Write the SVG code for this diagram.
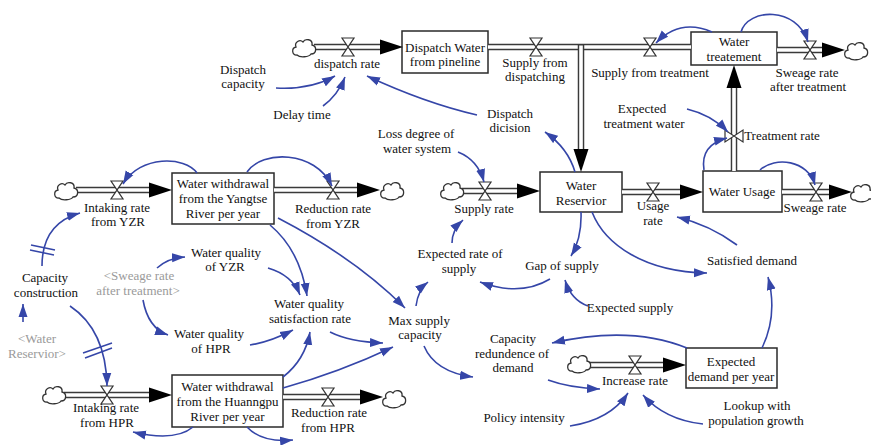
<svg xmlns="http://www.w3.org/2000/svg" width="871" height="445" viewBox="0 0 871 445">
<style>
text { font-family: "Liberation Serif", "Times New Roman", serif; font-size: 13px; fill: #111; text-anchor: middle; }
text.shadow { fill: #9a9a9a; }
.box { fill: #fff; stroke: #2a2a2a; stroke-width: 1.5; }
.pipe-o { stroke: #3a3a3a; stroke-width: 6.5; fill: none; }
.pipe-i { stroke: #fff; stroke-width: 3.6; fill: none; }
.valve { fill: #fff; stroke: #333; stroke-width: 1.2; }
.cloud { fill: #fff; stroke: #333; stroke-width: 1.3; }
.head { fill: #000; }
.link { fill: none; stroke: #3546a8; stroke-width: 1.6; marker-end: url(#ah); }
.delay { stroke: #3546a8; stroke-width: 1.5; }
</style>
<defs>
  <marker id="ah" markerUnits="userSpaceOnUse" markerWidth="14" markerHeight="10" refX="13" refY="5" orient="auto">
    <path d="M0,0.5 L13,5 L0,9.5 Z" fill="#3546a8"/>
  </marker>
  <path id="valve" d="M-6,-9 H6 L-6,9 H6 Z"/>
  <path id="cloud" d="M-7,7 C-12,8 -13,0 -8,-1 C-10,-6 -4,-9 -1,-6 C1,-10 9,-9 8,-3 C13,-2 13,6 7,6 C5,9 -4,10 -7,7 Z"/>
  <path id="head" d="M-23,-7.5 L0,0 L-23,7.5 Z"/>
</defs>
<rect width="871" height="445" fill="#fff"/>

<!-- ===== stocks ===== -->
<g id="stock-dispatch-water">
  <rect class="box" x="402" y="31" width="86" height="42"/>
  <text x="445" y="52">Dispatch Water</text>
  <text x="445" y="66">from pineline</text>
</g>
<g id="stock-water-treatement">
  <rect class="box" x="691" y="32" width="86" height="33"/>
  <text x="734" y="46">Water</text>
  <text x="734" y="61">treatement</text>
</g>
<g id="stock-yzr">
  <rect class="box" x="172" y="173" width="102" height="51"/>
  <text x="223" y="188">Water withdrawal</text>
  <text x="223" y="203">from the Yangtse</text>
  <text x="223" y="218">River per year</text>
</g>
<g id="stock-water-reservior">
  <rect class="box" x="540" y="172" width="82" height="40"/>
  <text x="581" y="190">Water</text>
  <text x="581" y="205">Reservior</text>
</g>
<g id="stock-water-usage">
  <rect class="box" x="703" y="171" width="79" height="41"/>
  <text x="742" y="196">Water Usage</text>
</g>
<g id="stock-hpr">
  <rect class="box" x="172" y="375" width="111" height="52"/>
  <text x="227.5" y="391">Water withdrawal</text>
  <text x="227.5" y="406">from the Huanngpu</text>
  <text x="227.5" y="421">River per year</text>
</g>
<g id="stock-expected-demand">
  <rect class="box" x="686" y="348" width="91" height="40"/>
  <text x="731" y="366">Expected</text>
  <text x="731" y="381">demand per year</text>
</g>

<!-- ===== flows ===== -->
<g id="flow-dispatch-rate">
  <line class="pipe-o" x1="314" y1="47" x2="384" y2="47"/>
  <line class="pipe-i" x1="314" y1="47" x2="384" y2="47"/>
  <use href="#cloud" class="cloud" transform="translate(304,48)"/>
  <use href="#valve" class="valve" transform="translate(348,47)"/>
  <use href="#head" class="head" transform="translate(403,47)"/>
  <text x="347" y="68">dispatch rate</text>
</g>
<g id="flow-supply-from-dispatching">
  <line class="pipe-o" x1="488" y1="47" x2="691" y2="47"/>
  <line class="pipe-i" x1="488" y1="47" x2="691" y2="47"/>
  <use href="#valve" class="valve" transform="translate(536,47)"/>
  <text x="535" y="67">Supply from</text>
  <text x="535" y="81">dispatching</text>
</g>
<g id="flow-supply-from-treatment">
  <use href="#valve" class="valve" transform="translate(650,47)"/>
  <text x="650" y="77">Supply from treatment</text>
</g>
<g id="flow-merge">
  <line class="pipe-o" x1="581" y1="44" x2="581" y2="152"/>
  <line class="pipe-i" x1="581" y1="45.5" x2="581" y2="152"/>
  <use href="#head" class="head" transform="translate(581,172) rotate(90)"/>
</g>
<g id="flow-sweage-after-treatment">
  <line class="pipe-o" x1="777" y1="50" x2="826" y2="50"/>
  <line class="pipe-i" x1="777" y1="50" x2="826" y2="50"/>
  <use href="#valve" class="valve" transform="translate(810,50)"/>
  <use href="#head" class="head" transform="translate(845,50)"/>
  <use href="#cloud" class="cloud" transform="translate(856,51)"/>
  <text x="807" y="77">Sweage rate</text>
  <text x="808" y="91">after treatment</text>
</g>
<g id="flow-treatment-rate">
  <line class="pipe-o" x1="734" y1="171" x2="734" y2="84"/>
  <line class="pipe-i" x1="734" y1="171" x2="734" y2="84"/>
  <use href="#valve" class="valve" transform="translate(734,136) rotate(90)"/>
  <use href="#head" class="head" transform="translate(734,65) rotate(-90)"/>
  <text x="782" y="140">Treatment rate</text>
</g>
<g id="flow-intaking-yzr">
  <line class="pipe-o" x1="76" y1="190" x2="153" y2="190"/>
  <line class="pipe-i" x1="76" y1="190" x2="153" y2="190"/>
  <use href="#cloud" class="cloud" transform="translate(66,191)"/>
  <use href="#valve" class="valve" transform="translate(117,190)"/>
  <use href="#head" class="head" transform="translate(172,190)"/>
  <text x="117" y="212">Intaking rate</text>
  <text x="118" y="226">from YZR</text>
</g>
<g id="flow-reduction-yzr">
  <line class="pipe-o" x1="274" y1="190" x2="361" y2="190"/>
  <line class="pipe-i" x1="274" y1="190" x2="361" y2="190"/>
  <use href="#valve" class="valve" transform="translate(333,190)"/>
  <use href="#head" class="head" transform="translate(380,190)"/>
  <use href="#cloud" class="cloud" transform="translate(392,191)"/>
  <text x="333" y="213">Reduction rate</text>
  <text x="333" y="228">from YZR</text>
</g>
<g id="flow-supply-rate">
  <line class="pipe-o" x1="462" y1="191" x2="521" y2="191"/>
  <line class="pipe-i" x1="462" y1="191" x2="521" y2="191"/>
  <use href="#cloud" class="cloud" transform="translate(452,191)"/>
  <use href="#valve" class="valve" transform="translate(485,191)"/>
  <use href="#head" class="head" transform="translate(540,191)"/>
  <text x="484" y="213">Supply rate</text>
</g>
<g id="flow-usage-rate">
  <line class="pipe-o" x1="622" y1="192" x2="684" y2="192"/>
  <line class="pipe-i" x1="622" y1="192" x2="684" y2="192"/>
  <use href="#valve" class="valve" transform="translate(653,192)"/>
  <use href="#head" class="head" transform="translate(703,192)"/>
  <text x="653" y="210">Usage</text>
  <text x="653" y="225">rate</text>
</g>
<g id="flow-sweage-rate">
  <line class="pipe-o" x1="782" y1="192" x2="833" y2="192"/>
  <line class="pipe-i" x1="782" y1="192" x2="833" y2="192"/>
  <use href="#valve" class="valve" transform="translate(816,192)"/>
  <use href="#head" class="head" transform="translate(852,192)"/>
  <use href="#cloud" class="cloud" transform="translate(862,193)"/>
  <text x="815" y="212">Sweage rate</text>
</g>
<g id="flow-intaking-hpr">
  <line class="pipe-o" x1="64" y1="395" x2="153" y2="395"/>
  <line class="pipe-i" x1="64" y1="395" x2="153" y2="395"/>
  <use href="#cloud" class="cloud" transform="translate(54,395)"/>
  <use href="#valve" class="valve" transform="translate(107,395)"/>
  <use href="#head" class="head" transform="translate(172,395)"/>
  <text x="106" y="412">Intaking rate</text>
  <text x="107" y="427">from HPR</text>
</g>
<g id="flow-reduction-hpr">
  <line class="pipe-o" x1="283" y1="397" x2="364" y2="397"/>
  <line class="pipe-i" x1="283" y1="397" x2="364" y2="397"/>
  <use href="#valve" class="valve" transform="translate(328,397)"/>
  <use href="#head" class="head" transform="translate(383,397)"/>
  <use href="#cloud" class="cloud" transform="translate(394,399)"/>
  <text x="329" y="417">Reduction rate</text>
  <text x="328" y="432">from HPR</text>
</g>
<g id="flow-increase-rate">
  <line class="pipe-o" x1="589" y1="365" x2="667" y2="365"/>
  <line class="pipe-i" x1="589" y1="365" x2="667" y2="365"/>
  <use href="#cloud" class="cloud" transform="translate(579,364)"/>
  <use href="#valve" class="valve" transform="translate(635,365)"/>
  <use href="#head" class="head" transform="translate(686,365)"/>
  <text x="635" y="385">Increase rate</text>
</g>

<!-- ===== auxiliaries ===== -->
<g id="aux-dispatch-capacity"><text x="243" y="74">Dispatch</text><text x="243" y="88">capacity</text></g>
<g id="aux-delay-time"><text x="302" y="119">Delay time</text></g>
<g id="aux-dispatch-dicision"><text x="510" y="118">Dispatch</text><text x="510" y="132">dicision</text></g>
<g id="aux-loss-degree"><text x="416" y="138">Loss degree of</text><text x="417" y="153">water system</text></g>
<g id="aux-expected-treatment"><text x="642" y="113">Expected</text><text x="644" y="128">treatment water</text></g>
<g id="aux-capacity-construction"><text x="45" y="282">Capacity</text><text x="46" y="297">construction</text></g>
<g id="aux-water-quality-yzr"><text x="226" y="257">Water quality</text><text x="225" y="271">of YZR</text></g>
<g id="shadow-sweage-rate"><text class="shadow" x="139" y="280">&lt;Sweage rate</text><text class="shadow" x="138" y="295">after treatment&gt;</text></g>
<g id="aux-expected-rate-supply"><text x="460" y="258">Expected rate of</text><text x="459" y="273">supply</text></g>
<g id="aux-gap-of-supply"><text x="562" y="270">Gap of supply</text></g>
<g id="aux-satisfied-demand"><text x="752" y="265">Satisfied demand</text></g>
<g id="aux-wq-satisfaction"><text x="309" y="308">Water quality</text><text x="310" y="323">satisfaction rate</text></g>
<g id="aux-max-supply"><text x="419" y="325">Max supply</text><text x="420" y="339">capacity</text></g>
<g id="aux-expected-supply"><text x="630" y="312">Expected supply</text></g>
<g id="aux-water-quality-hpr"><text x="209" y="338">Water quality</text><text x="211" y="353">of HPR</text></g>
<g id="shadow-water-reservior"><text class="shadow" x="37" y="343">&lt;Water</text><text class="shadow" x="37" y="358">Reservior&gt;</text></g>
<g id="aux-capacity-redundence"><text x="513" y="343">Capacity</text><text x="512" y="358">redundence of</text><text x="513" y="372">demand</text></g>
<g id="aux-policy-intensity"><text x="524" y="422">Policy intensity</text></g>
<g id="aux-lookup"><text x="757" y="410">Lookup with</text><text x="756" y="425">population growth</text></g>

<!-- ===== information links ===== -->
<g id="connectors">
  <path class="link" d="M276,88 Q310,90 335,76"/>
  <path class="link" d="M323,106 Q338,95 345,77"/>
  <path class="link" d="M477,115 Q425,103 367,76"/>
  <path class="link" d="M575,172 Q568,148 545,132"/>
  <path class="link" d="M712,32 Q680,18 656,43"/>
  <path class="link" d="M741,32 C748,8 797,6 808,42"/>
  <path class="link" d="M687,109 Q712,115 728,132"/>
  <path class="link" d="M704,170 Q700,145 727,138"/>
  <path class="link" d="M760,170 C775,156 808,160 815,185"/>
  <path class="link" d="M458,152 Q478,160 484,182"/>
  <path class="link" d="M197,173 C185,156 140,155 123,184"/>
  <path class="link" d="M247,172 C262,150 315,150 332,186"/>
  <path class="link" d="M42,266 C42,238 55,220 80,213"/>
  <line class="delay" x1="31" y1="245" x2="55" y2="250"/>
  <line class="delay" x1="30" y1="250" x2="54" y2="255"/>
  <path class="link" d="M157,268 Q168,258 185,257"/>
  <path class="link" d="M270,225 Q300,250 307,296"/>
  <path class="link" d="M268,268 Q292,275 300,295"/>
  <path class="link" d="M278,218 Q355,258 405,308"/>
  <path class="link" d="M330,332 Q350,342 383,343"/>
  <path class="link" d="M416,306 Q418,290 428,282"/>
  <path class="link" d="M452,243 Q452,230 463,220"/>
  <path class="link" d="M581,212 Q582,238 571,256"/>
  <path class="link" d="M550,279 Q520,297 480,282"/>
  <path class="link" d="M588,306 Q571,300 565,280"/>
  <path class="link" d="M592,212 C605,245 645,272 707,273"/>
  <path class="link" d="M737,245 Q710,225 677,217"/>
  <path class="link" d="M762,348 Q778,315 768,277"/>
  <path class="link" d="M687,348 Q630,325 552,343"/>
  <path class="link" d="M424,346 Q435,372 473,377"/>
  <path class="link" d="M548,380 Q570,388 600,389"/>
  <path class="link" d="M570,426 Q610,420 628,393"/>
  <path class="link" d="M703,424 Q665,420 643,395"/>
  <path class="link" d="M70,306 Q106,330 107,386"/>
  <line class="delay" x1="83" y1="353" x2="112" y2="343"/>
  <line class="delay" x1="85" y1="358" x2="112" y2="348"/>
  <path class="link" d="M23,322 L23,304"/>
  <path class="link" d="M143,300 Q148,328 168,335"/>
  <path class="link" d="M250,345 Q270,342 293,330"/>
  <path class="link" d="M283,377 Q305,360 310,332"/>
  <path class="link" d="M283,388 Q340,372 393,347"/>
  <path class="link" d="M193,427 Q175,442 133,432"/>
  <path class="link" d="M247,427 Q262,443 293,440"/>
</g>
</svg>
